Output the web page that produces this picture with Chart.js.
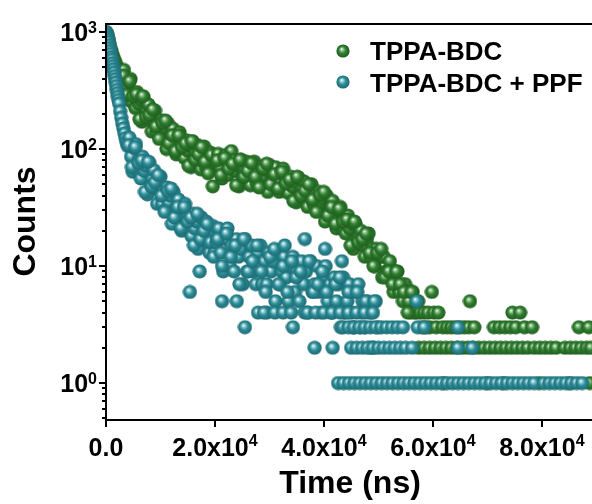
<!DOCTYPE html>
<html>
<head>
<meta charset="utf-8">
<script src="https://cdn.jsdelivr.net/npm/chart.js@4.4.0/dist/chart.umd.min.js"></script>
<style>
  html, body { margin: 0; padding: 0; background: #fff; }
  canvas { display: block; }
</style>
</head>
<body>
<canvas id="decay" width="592" height="504"></canvas>
<script>
// time in microseconds (x1000 -> ns), counts
var greenPoints = [
  [0.0,1000],[0.2,950],[0.4,880],[0.6,800],[0.8,730],[1.0,690],[1.2,640],[1.4,600],[1.6,570],[1.8,540],
  [2.0,510],[2.2,480],[2.4,470],[2.6,440],[2.8,420],
  [3.0,420],[3.3,474],[3.6,345],[3.9,266],[4.2,375],[4.5,397],[4.8,252],[5.1,300],[5.4,224],[5.7,307],
  [6.0,245],[6.3,266],[6.6,171],[6.9,278],[7.2,192],[7.5,210],[7.8,240],[8.1,178],[8.4,141],[8.7,200],
  [9.0,213],[9.3,140],[9.6,168],[9.9,126],[10.2,176],[10.5,142],[10.8,154],[11.1,100],[11.4,165],[11.7,115],
  [12.0,127],[12.3,149],[12.6,111],[12.9,90],[13.2,129],[13.5,139],[13.8,92],[14.1,111],[14.4,84],[14.7,119],
  [15.0,97],[15.3,107],[15.6,70],[15.9,116],[16.2,82],[16.5,92],[16.8,108],[17.1,82],[17.4,67],[17.7,96],
  [18.0,105],[18.3,71],[18.6,85],[18.9,65],[19.2,93],[19.6,48],[19.9,75],
  [3.15,424],[3.75,290],[4.35,380],[4.95,282],[5.55,294],[6.15,180],[6.75,283],[7.35,188],[7.95,196],[8.55,218],
  [9.15,156],[9.75,122],[10.35,168],[10.95,175],[11.55,112],[12.15,131],[12.75,96],[13.35,131],[13.95,104],[14.55,112],
  [15.15,72],[15.75,117],[16.35,81],[16.95,90],[17.55,104],[18.15,78],[18.75,62],[19.35,89],
  [20.2,77],[20.6,91],[21.0,69],[21.3,56],[21.7,82],[22.0,89],[22.4,60],[22.7,73],[23.0,96],[23.4,80],
  [23.7,65],[24.1,72],[24.4,48],[24.8,81],[25.1,58],[25.5,65],[25.8,78],[26.2,59],[26.5,49],[26.9,71],
  [27.2,78],[27.6,52],[27.9,64],[28.3,50],[28.6,71],[29.0,59],[29.3,66],[29.7,43],[30.0,73],[30.4,52],
  [30.7,59],[31.1,70],[31.4,52],[31.8,43],[32.1,63],[32.5,68],[32.8,45],[33.2,55],[33.5,42],[33.9,58],
  [34.2,48],[34.6,53],[34.9,35],[35.3,57],[35.6,40],[36.0,45],[36.3,53],[36.7,40],[37.0,32],[37.4,46],
  [37.7,50],[38.1,34],[38.4,41],[38.8,30],[39.1,43],[39.5,35],[39.8,38],[40.2,24],[40.5,40],[40.9,28],
  [41.2,31],[41.6,36],[41.9,27],[42.3,21],[42.6,30],[43.0,32],[43.3,21],[43.7,25],[44.0,19],[44.4,27],
  [44.7,21],[45.1,23],[45.4,14],[45.8,23],[46.1,17],[46.5,18],[46.8,20],[47.2,15],[47.5,12],[47.9,17],
  [48.2,19],[48.6,12],[48.9,14],[49.3,10],[49.6,14],[50.0,12],[50.3,12],[50.7,8],[51.0,12],[51.4,9],
  [51.7,9],[52.1,11],[52.4,8],[52.8,6],[53.1,9],[53.5,9],[53.8,6],[54.2,7],[54.5,5],[54.9,7],
  [55.2,6],[55.6,5],[55.9,4],[56.3,6],[56.6,4],[57.0,4],[57.3,5],[57.7,4],[58.0,3],[58.4,4],
  [58.7,3],[59.1,4],[59.4,3],[59.8,6],[60.2,4],[60.6,3],[61.0,4],
  [20.4,80],[21.1,60],[21.8,84],[22.5,68],[23.2,75],[23.9,49],[24.6,81],[25.3,58],[26.0,65],[26.7,76],
  [27.4,58],[28.1,47],[28.8,68],[29.5,75],[30.2,50],[30.9,61],[31.6,46],[32.3,64],[33.0,51],[33.7,55],
  [34.4,36],[35.1,58],[35.8,40],[36.5,44],[37.2,50],[37.9,37],[38.6,29],[39.3,41],[40.0,43],[40.7,27],
  [41.4,32],[42.1,23],[42.8,31],[43.5,24],[44.2,25],[44.9,15],[45.6,24],[46.3,16],[47.0,17],[47.7,19],
  [48.4,13],[49.1,10],[49.8,13],[50.5,14],[51.2,8],[51.9,9],[52.6,7],[53.3,9],[54.0,7],[54.7,6],
  [55.4,4],[56.1,6],
  [57.4,2],[58.4,2],[59.4,2],[60.4,2],[61.4,2],[62.4,2],[63.4,2],[64.4,2],[65.4,2],[66.4,2],
  [67.4,2],[68.4,2],[69.4,2],[70.4,2],[71.4,2],[72.4,2],[73.4,2],[74.4,2],[75.4,2],[76.4,2],
  [77.4,2],[78.6,2],[79.6,2],[80.6,2],[81.6,2],[82.6,2],[84.2,2],[85.2,2],[86.2,2],[87.2,2],
  [88.2,2],[89.0,2],
  [61.8,3],[62.6,3],[63.4,3],[64.2,3],[65.0,3],[65.8,3],[66.6,3],[67.6,3],[71.2,3],[72.2,3],
  [73.2,3],[74.2,3],[75.2,3],[76.8,3],[78.2,3],[86.8,3],[88.6,3],
  [66.8,5],[74.6,4],[76.0,4],
  [62.0,1],[70.0,1],[73.0,1],[79.5,1],[85.0,1],[88.8,1]
];

var tealPoints = [
  [0.0,1000],[0.1,980],[0.2,940],[0.3,900],[0.4,860],[0.5,820],[0.6,770],[0.7,730],[0.8,690],[0.9,650],
  [1.0,610],[1.1,580],[1.2,540],[1.3,510],[1.4,480],[1.5,450],[1.6,420],[1.7,395],[1.8,370],[1.9,345],
  [2.0,320],[2.1,300],[2.2,280],[2.3,262],[2.4,245],[2.6,210],[2.8,185],[3.0,165],[3.2,150],[3.4,136],
  [3.6,124],[3.8,114],
  [4.0,106],[4.3,125],[4.6,86],[4.9,64],[5.2,102],[5.5,110],[5.8,66],[6.1,82],[6.4,56],[6.7,86],
  [7.0,65],[7.3,72],[7.6,41],[7.9,77],[8.2,48],[8.5,55],[8.8,66],[9.1,46],[9.4,34],[9.7,54],
  [10.0,58],[10.3,34],[10.6,44],[10.9,30],[11.2,47],[11.5,35],[11.8,40],[12.1,23],[12.4,43],[12.7,27],
  [13.0,31],[13.3,37],[13.6,26],[13.9,20],[14.2,31],[14.5,34],[14.8,21],[15.1,26],[15.4,6],[15.7,18],
  [16.0,28],[16.3,21],[16.6,24],[16.9,14],[17.2,9],[17.5,26],[17.8,17],[18.1,19],[18.4,24],[18.7,16],
  [19.0,13],[19.3,20],[19.6,22],[19.9,13],
  [4.15,108],[4.75,70],[5.35,104],[5.95,76],[6.55,80],[7.15,43],[7.75,78],[8.35,48],[8.95,52],[9.55,60],
  [10.15,40],[10.75,29],[11.35,44],[11.95,46],[12.55,26],[13.15,32],[13.75,21],[14.35,32],[14.95,24],[15.55,26],
  [16.15,15],[16.75,28],[17.35,17],[17.95,20],[18.55,23],[19.15,16],[19.75,12],
  [20.3,16],[20.7,21],[21.1,13],[21.5,9],[21.9,17],[22.3,21],[22.7,10],[23.1,15],[23.5,9],[23.9,17],
  [24.3,12],[24.7,14],[25.1,7],[25.5,17],[25.9,9],[26.3,12],[26.7,15],[27.1,9],[27.5,7],[27.9,13],
  [28.3,15],[28.7,7],[29.1,11],[29.5,7],[29.9,13],[30.3,9],[30.7,11],[31.1,5],[31.5,13],[31.9,7],
  [32.3,9],[32.7,12],[33.1,8],[33.5,5],[33.9,10],[34.3,12],[34.7,6],[35.1,9],[35.5,5],[35.9,11],
  [36.3,7],[36.7,9],[37.1,4],[37.5,11],[37.9,6],[38.3,7],[38.7,10],[39.1,6],[39.5,4],[39.9,8],
  [40.3,10],[40.7,5],[41.1,7],[41.5,4],[41.9,8],[42.3,5],[42.7,7],[43.1,3],[43.5,8],[43.9,4],
  [44.3,5],[44.7,7],[45.1,4],[45.5,3],[45.9,6],[46.3,7],[46.7,3],[47.1,5],[47.5,3],[47.9,5],
  [48.3,4],[48.7,4],[49.1,2],[49.5,5],[49.9,3],
  [20.5,17],[21.3,5],[21.3,10],[22.1,19],[22.9,12],[23.7,15],[24.0,5],[24.5,7],[25.3,17],[25.5,3],
  [26.1,9],[26.9,11],[27.7,15],[27.9,4],[28.5,9],[29.3,6],[29.5,4],[30.1,12],[30.9,14],[31.7,7],
  [32.5,10],[32.8,15],[33.3,6],[34.1,11],[34.3,3],[34.9,8],[35.7,9],[36.5,17],[36.5,4],[37.3,11],
  [38.1,6],[38.9,7],[39.7,9],[40.2,14],[40.5,6],[41.3,4],[42.1,7],[42.9,8],[43.3,11],[43.7,4],
  [44.5,6],[45.3,3],[46.1,6],[46.9,4],[47.7,5],[48.5,2],[49.3,5],[57.0,5],
  [29.0,4],[31.0,4],[32.5,4],[34.0,4],[37.0,4],[38.5,4],[40.0,4],[41.5,4],[43.0,4],[44.5,4],
  [46.0,4],[47.5,4],[49.0,4],
  [43.5,3],[44.5,3],[45.5,3],[46.5,3],[47.5,3],[48.5,3],[49.5,3],[50.5,3],[51.5,3],[52.5,3],
  [53.5,3],[54.5,3],[57.2,3],[58.4,3],[64.6,3],
  [38.3,2],[41.6,2],[45.0,2],[46.0,2],[47.0,2],[48.0,2],[49.0,2],[50.0,2],[51.0,2],[52.0,2],
  [53.0,2],[54.0,2],[55.0,2],[56.2,2],[64.6,2],[67.2,2],
  [42.6,1],[43.6,1],[44.6,1],[45.6,1],[46.6,1],[47.6,1],[48.6,1],[49.6,1],[50.6,1],[51.6,1],
  [52.6,1],[53.6,1],[54.6,1],[55.6,1],[56.6,1],[57.6,1],[58.6,1],[59.6,1],[60.6,1],[61.6,1],
  [62.6,1],[63.6,1],[64.6,1],[65.6,1],[66.6,1],[67.6,1],[68.6,1],[69.6,1],[70.6,1],[71.6,1],
  [72.6,1],[73.6,1],[74.6,1],[75.6,1],[76.6,1],[77.6,1],[78.6,1],
  [80.4,1],[81.4,1],[82.4,1],[83.4,1],[84.4,1],[85.4,1],[86.4,1],[87.4,1]
];

var seriesNames = ['TPPA-BDC', 'TPPA-BDC + PPF'];
var xTickValues = [0, 20000, 40000, 60000, 80000];
var xTickLabels = [['0.0', ''], ['2.0x10', '4'], ['4.0x10', '4'], ['6.0x10', '4'], ['8.0x10', '4']];
var yTickExponents = [0, 1, 2, 3];
var xTitle = 'Time (ns)';
var yTitle = 'Counts';

var FONT = '"Liberation Sans", Arial, sans-serif';

function makeBall(size, light, base, dark){
    var c = document.createElement('canvas');
    c.width = size; c.height = size;
    var g = c.getContext('2d');
    var h = size / 2, r = size / 2 - 0.4;
    var grad = g.createRadialGradient(h - r * 0.22, h - r * 0.3, 0.2, h, h, r * 1.05);
    grad.addColorStop(0, '#ffffff');
    grad.addColorStop(0.16, light);
    grad.addColorStop(0.5, base);
    grad.addColorStop(1, dark);
    g.fillStyle = grad;
    g.beginPath();
    g.arc(h, h, r, 0, Math.PI * 2);
    g.fill();
    return c;
}

var greenBall = makeBall(15, '#9cc99c', '#2f7f2f', '#1f5a1f');
var tealBall = makeBall(15, '#a6d6dc', '#2b8d98', '#1c666e');
var greenKey = makeBall(14, '#9cc99c', '#2f7f2f', '#1f5a1f');
var tealKey = makeBall(14, '#a6d6dc', '#2b8d98', '#1c666e');

function toXY(list){
    return list.map(function(p){ return {x: p[0] * 1000, y: p[1]}; });
}

var axesPlugin = {
    id: 'decayAxes',
    afterDraw: function(chart){
        var ctx = chart.ctx;
        var a = chart.chartArea;
        var xs = chart.scales.x;
        var ys = chart.scales.y;
        ctx.save();
        ctx.strokeStyle = '#000';
        ctx.lineWidth = 2;

        // frame (top, left, bottom)
        ctx.beginPath();
        ctx.moveTo(a.left, a.top); ctx.lineTo(a.right, a.top);
        ctx.moveTo(a.left, a.top - 1); ctx.lineTo(a.left, a.bottom + 1);
        ctx.moveTo(a.left - 1, a.bottom); ctx.lineTo(a.right, a.bottom);
        ctx.stroke();

        // y ticks, major + minor
        ctx.beginPath();
        for (var e = -1; e <= 3; e++) {
            for (var m = 1; m <= 9; m++) {
                var v = m * Math.pow(10, e);
                if (v < ys.min || v > ys.max) continue;
                var py = Math.round(ys.getPixelForValue(v));
                var len = (m === 1) ? 7 : 4;
                ctx.moveTo(a.left - len, py); ctx.lineTo(a.left, py);
            }
        }
        // x ticks
        xTickValues.forEach(function(v){
            var px = Math.round(xs.getPixelForValue(v));
            ctx.moveTo(px, a.bottom); ctx.lineTo(px, a.bottom + 7);
        });
        ctx.stroke();

        ctx.fillStyle = '#000';
        ctx.textBaseline = 'alphabetic';
        ctx.textAlign = 'left';

        // y labels 10^n
        yTickExponents.forEach(function(n){
            var py = ys.getPixelForValue(Math.pow(10, n));
            ctx.font = 'bold 16px ' + FONT;
            var sw = ctx.measureText(String(n)).width;
            ctx.font = 'bold 25px ' + FONT;
            var bw = ctx.measureText('10').width;
            var right = 97;
            ctx.fillText('10', right - sw - bw, py + 9);
            ctx.font = 'bold 16px ' + FONT;
            ctx.fillText(String(n), right - sw, py + 0.5);
        });

        // x labels
        xTickValues.forEach(function(v, i){
            var px = xs.getPixelForValue(v);
            var base = xTickLabels[i][0], sup = xTickLabels[i][1];
            ctx.font = 'bold 25px ' + FONT;
            var bw = ctx.measureText(base).width;
            ctx.font = 'bold 16px ' + FONT;
            var sw = sup ? ctx.measureText(sup).width : 0;
            var start = px - (bw + sw) / 2;
            ctx.font = 'bold 25px ' + FONT;
            ctx.fillText(base, start, 456);
            if (sup) {
                ctx.font = 'bold 16px ' + FONT;
                ctx.fillText(sup, start + bw, 446);
            }
        });

        // axis titles
        ctx.font = 'bold 32px ' + FONT;
        ctx.textAlign = 'center';
        ctx.fillText(xTitle, 350, 493);
        ctx.save();
        ctx.translate(35, 221.5);
        ctx.rotate(-Math.PI / 2);
        ctx.fillText(yTitle, 0, 0);
        ctx.restore();

        // legend
        ctx.textAlign = 'left';
        ctx.font = 'bold 26px ' + FONT;
        ctx.drawImage(greenKey, 343 - 7, 51 - 7);
        ctx.fillText(seriesNames[0], 370, 60);
        ctx.drawImage(tealKey, 343 - 7, 82 - 7);
        ctx.fillText(seriesNames[1], 370, 92);

        ctx.restore();
    }
};

var chart = new Chart(document.getElementById('decay').getContext('2d'), {
    type: 'scatter',
    data: {
        datasets: [{
            label: seriesNames[0],
            data: toXY(greenPoints),
            pointStyle: greenBall,
            pointRadius: 7,
            order: 1
        }, {
            label: seriesNames[1],
            data: toXY(tealPoints),
            pointStyle: tealBall,
            pointRadius: 7,
            order: 0
        }]
    },
    options: {
        responsive: false,
        devicePixelRatio: 1,
        animation: false,
        layout: { autoPadding: false, padding: { top: 24, left: 0, right: 0, bottom: 0 } },
        plugins: {
            legend: { display: false },
            tooltip: { enabled: false }
        },
        scales: {
            x: {
                type: 'linear',
                min: 0,
                max: 89200,
                grid: { display: false },
                border: { display: false },
                ticks: { display: false },
                afterFit: function(scale){ scale.height = 84; }
            },
            y: {
                type: 'logarithmic',
                min: 0.483,
                max: 1171,
                bounds: 'data',
                grid: { display: false },
                border: { display: false },
                ticks: { display: false },
                afterFit: function(scale){ scale.width = 106; }
            }
        }
    },
    plugins: [axesPlugin]
});
</script>
</body>
</html>
